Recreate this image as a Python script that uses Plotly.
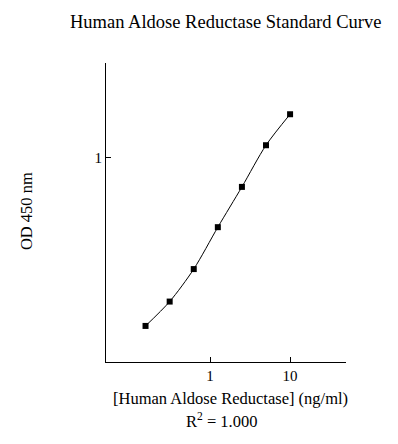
import plotly.graph_objects as go
import math

conc = [0.156, 0.3125, 0.625, 1.25, 2.5, 5, 10]
od = [0.172, 0.222, 0.312, 0.484, 0.738, 1.142, 1.580]
x_ticks = [1, 10]
x_ticktext = ["1", "10"]
y_ticks = [1]
y_ticktext = ["1"]

FONT = "Liberation Serif"

fig = go.Figure()
fig.add_trace(go.Scatter(
    x=conc, y=od, mode="lines+markers",
    line=dict(color="black", width=1, shape="spline", smoothing=0.8),
    marker=dict(symbol="square", size=6, color="black"),
    showlegend=False, hoverinfo="skip",
))

# page body has an 8px margin; figure is sized to fit the 398x444 window
fig.update_layout(
    width=382, height=428,
    margin=dict(l=98, r=44, t=55, b=74),
    paper_bgcolor="white", plot_bgcolor="white",
    font=dict(family=FONT, color="black", size=14),
    xaxis=dict(type="log", range=[math.log10(0.05), math.log10(50)],
               tickvals=x_ticks, ticktext=x_ticktext,
               ticks="inside", ticklen=5, tickwidth=1, tickcolor="black",
               showline=True, linecolor="black", linewidth=1,
               showgrid=False, zeroline=False,
               tickfont=dict(family=FONT, size=15, color="black")),
    yaxis=dict(type="log", range=[-0.9286, 0.4318],
               tickvals=y_ticks, ticktext=y_ticktext,
               ticks="inside", ticklen=5, tickwidth=1, tickcolor="black",
               showline=True, linecolor="black", linewidth=1,
               showgrid=False, zeroline=False,
               tickfont=dict(family=FONT, size=15, color="black")),
    annotations=[
        dict(text="Human Aldose Reductase Standard Curve", xref="paper", yref="paper",
             x=0.496, y=1.136, xanchor="center", yanchor="middle", showarrow=False,
             font=dict(family=FONT, size=18.5, color="black")),
        dict(text="[Human Aldose Reductase] (ng/ml)", xref="paper", yref="paper",
             x=0.517, y=-0.1236, xanchor="center", yanchor="middle", showarrow=False,
             font=dict(family=FONT, size=16.5, color="black")),
        dict(text="R<sup>2</sup> = 1.000", xref="paper", yref="paper",
             x=0.482, y=-0.197, xanchor="center", yanchor="middle", showarrow=False,
             font=dict(family=FONT, size=16.5, color="black")),
        dict(text="OD 450 nm", xref="paper", yref="paper", textangle=-90,
             x=-0.333, y=0.505, xanchor="center", yanchor="middle", showarrow=False,
             font=dict(family=FONT, size=16.5, color="black")),
    ],
)

fig.write_html("out.html")
